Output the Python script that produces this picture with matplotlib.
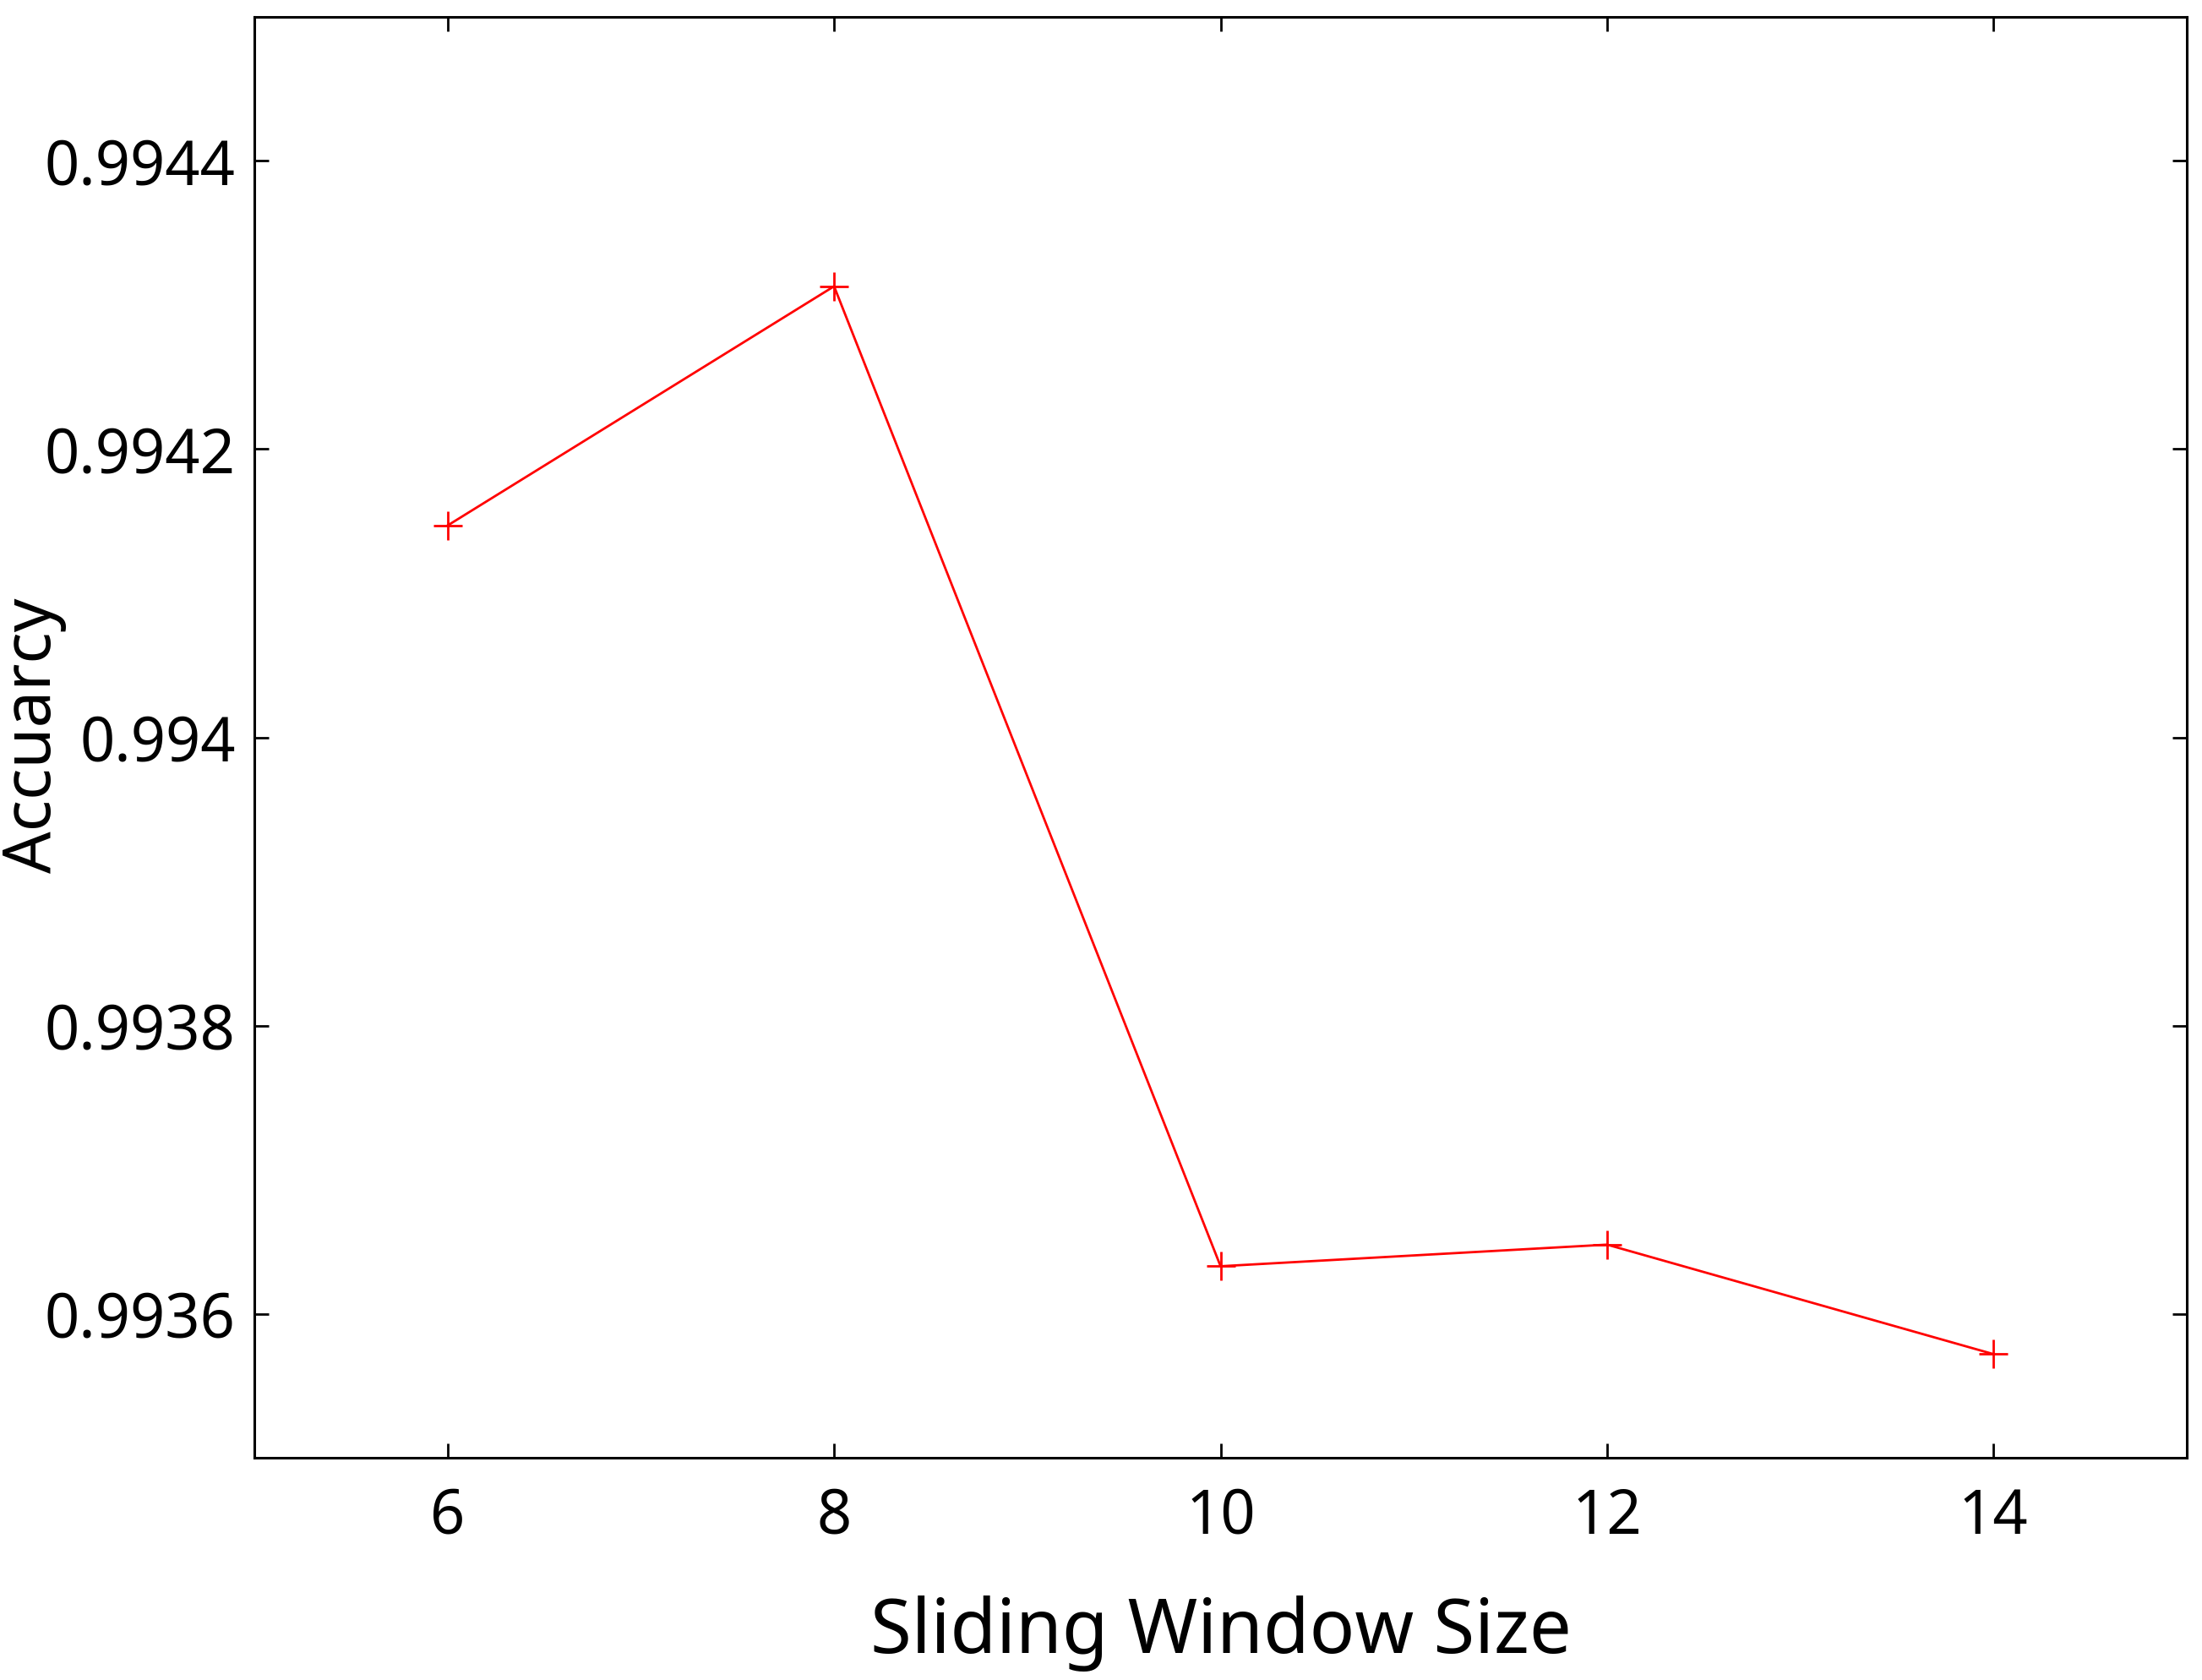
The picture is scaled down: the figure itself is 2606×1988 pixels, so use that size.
import matplotlib
matplotlib.use("Agg")
import matplotlib.pyplot as plt

plt.rcParams["font.family"] = ["Noto Sans", "DejaVu Sans"]

# data
window_size = [6, 8, 10, 12, 14]
accuracy = [0.994147, 0.994313, 0.993633, 0.993648, 0.993572]

x_ticks = [6, 8, 10, 12, 14]
y_ticks = [0.9936, 0.9938, 0.994, 0.9942, 0.9944]
y_tick_labels = ["0.9936", "0.9938", "0.994", "0.9942", "0.9944"]

DPI = 200
fig = plt.figure(figsize=(2606 / DPI, 1988 / DPI), dpi=DPI)
ax = fig.add_axes([0.1155, 0.1322, 0.8776, 0.8578])

ax.plot(window_size, accuracy, color="red", lw=1.0,
        marker="+", markersize=12, markeredgewidth=1.0)

ax.set_xlim(5, 15)
ax.set_ylim(0.9935, 0.9945)
ax.set_xticks(x_ticks)
ax.set_yticks(y_ticks)
ax.set_yticklabels(y_tick_labels)

ax.tick_params(direction="in", top=True, right=True, length=6, width=1.0,
               labelsize=26)
ax.tick_params(axis="x", pad=12)
ax.tick_params(axis="y", pad=8)
for s in ax.spines.values():
    s.set_linewidth(1.1)

ax.set_xlabel("Sliding Window Size", fontsize=32, labelpad=20)
# y label placed in figure coords so it stays inside the canvas
fig.text(0.015, 0.562, "Accuarcy", fontsize=28, rotation=90,
         ha="center", va="center")

fig.savefig("out.png", dpi=DPI, facecolor="white")
